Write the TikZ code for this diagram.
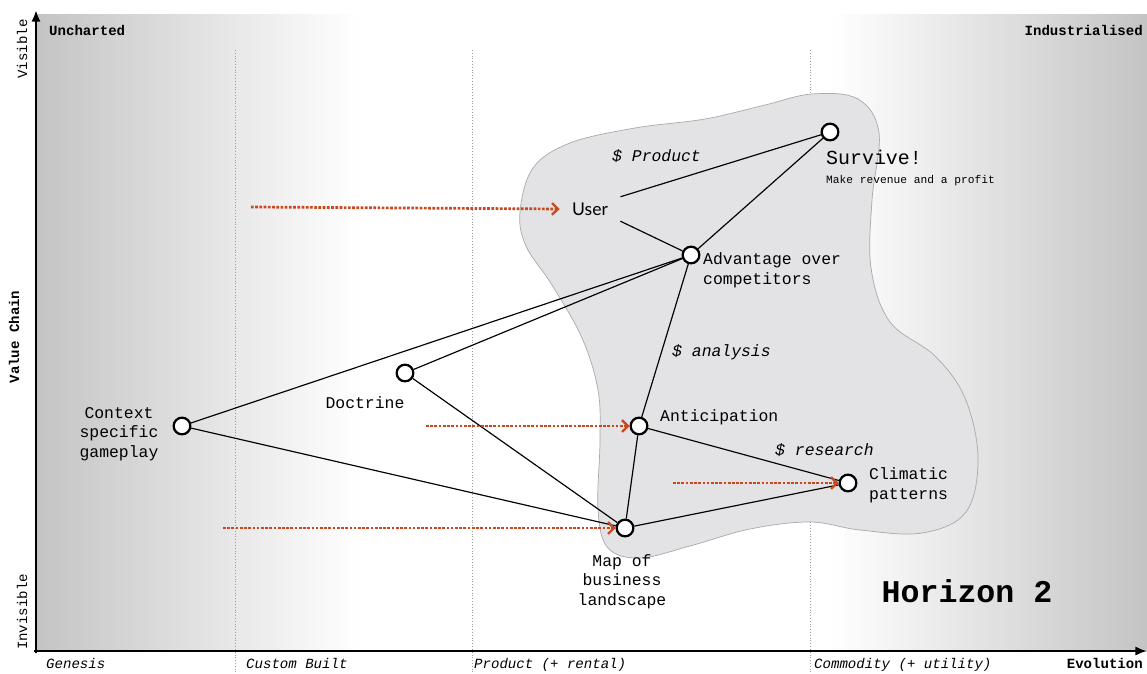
\documentclass[tikz,border=0pt]{standalone}
\usepackage{fontspec}
\setmainfont{Liberation Mono}
\newfontfamily\userfont{Lato}
\usetikzlibrary{arrows.meta}
\definecolor{bgdark}{HTML}{C4C4C4}
\definecolor{blobfill}{HTML}{E3E3E5}
\definecolor{blobedge}{HTML}{A9A9A9}
\definecolor{gridgray}{HTML}{9C9C9C}
\definecolor{moveorange}{HTML}{C9481F}

\begin{document}
\begin{tikzpicture}[x=0.03cm, y=-0.03cm,
  comp/.style={circle, draw=black, line width=1.9pt, fill=white,
               minimum size=0.5cm, inner sep=0pt},
  lbl/.style={font=\fontsize{14}{16.5}\selectfont, align=left, inner sep=0pt},
  clbl/.style={font=\fontsize{14}{16.5}\selectfont, align=center, inner sep=0pt},
  cost/.style={font=\itshape\fontsize{14}{16.5}\selectfont, inner sep=0pt, anchor=base west},
  stage/.style={font=\itshape\fontsize{12}{14}\selectfont, inner sep=0pt, anchor=base west},
  corner/.style={font=\bfseries\fontsize{12}{14}\selectfont, inner sep=0pt},
  side/.style={font=\fontsize{12}{14}\selectfont, inner sep=0pt, rotate=90},
  link/.style={draw=black, line width=1pt},
  move/.style={draw=moveorange, line width=2.3pt, dash pattern=on 2.3pt off 1.3pt,
               -{Straight Barb[length=5pt, width=10pt, line width=2pt]}},
  gridln/.style={draw=gridgray, line width=0.6pt, dash pattern=on 0.8pt off 1.6pt},
  axis/.style={line width=2.4pt, -{Latex[length=10pt, width=8pt]}},
]
\useasboundingbox (0,0) rectangle (1147,674);
% ================= background: evolution shading ===========================
\shade[left color=bgdark, right color=white] (36,15) rectangle (360,651);
\shade[left color=white, right color=bgdark] (830,15) rectangle (1147,651);
\foreach \gx in {235, 472, 810}
  \draw[gridln] (\gx,50) -- (\gx,674);
% ================= horizon 2 blob ==========================================
\draw[blobedge, fill=blobfill, line width=0.6pt] plot[smooth cycle, tension=0.6] coordinates {
  (520,212) (533,168) (570,143) (635,128) (705,119) (765,105) (812,94) (858,99)
  (879,133) (872,200) (871,268) (890,322) (935,356) (965,398) (978,458) (966,512)
  (922,533) (860,530) (810,522) (750,529) (690,546) (640,558) (608,548) (598,510)
  (600,440) (598,390) (582,338) (552,285) (526,246)};
% ================= axes ====================================================
\coordinate (origin) at (36,651);
\coordinate (vtop) at (36,10);
\coordinate (hend) at (1147,651);
\draw[axis] (36,653) -- (vtop);
\draw[axis] (34,651) -- (hend);
\node[side] (visible) at (22,49) {Visible};
\node[side] (invisible) at (22,612) {Invisible};
\node[side, font=\bfseries\fontsize{12}{14}\selectfont] (valuechain) at (14,337) {Value Chain};
\node[corner, anchor=base west] (uncharted) at (49,36) {Uncharted};
\node[corner, anchor=base east] (industrial) at (1143,36) {Industrialised};
\node[stage] (genesis) at (46,668) {Genesis};
\node[stage] (custom) at (246,668) {Custom Built};
\node[stage] (product) at (474,668) {Product (+ rental)};
\node[stage] (commodity) at (814,668) {Commodity (+ utility)};
\node[corner, anchor=base east] (evolution) at (1143,668) {Evolution};
% ================= components ==============================================
\node[comp] (survive) at (830,132) {};
\node[comp] (adv) at (691,255) {};
\node[comp] (doctrine) at (405,373) {};
\node[comp] (context) at (182,426) {};
\node[comp] (antic) at (639,426) {};
\node[comp] (climatic) at (848,483) {};
\node[comp] (map) at (625,528) {};
\node[font=\userfont\fontsize{15}{17}\selectfont, inner xsep=0.37cm, inner ysep=0pt,
      minimum height=0.72cm] (user) at (590,209) {User};
% labels (multi-line: base = last line)
\node[inner sep=0pt, anchor=base west, font=\fontsize{17}{19}\selectfont] (survivelab) at (826,164) {Survive!};
\node[inner sep=0pt, anchor=base west, font=\fontsize{9.6}{11}\selectfont] (profitlab) at (826,183) {Make revenue and a profit};
\node[lbl, anchor=base west] (advlab) at (703,284) {Advantage over\\competitors};
\node[clbl, anchor=base] (doctrinelab) at (365,408) {Doctrine};
\node[clbl, anchor=base] (contextlab) at (119,457) {Context\\specific\\gameplay};
\node[lbl, anchor=base west] (anticlab) at (660,421) {Anticipation};
\node[lbl, anchor=base west] (climaticlab) at (869,499) {Climatic\\patterns};
\node[clbl, anchor=base] (maplab) at (622,605) {Map of\\business\\landscape};
\node[cost] (productcost) at (612,161) {\$ Product};
\node[cost] (analysiscost) at (672,356) {\$ analysis};
\node[cost] (researchcost) at (775,455) {\$ research};
\node[inner sep=0pt, anchor=base, font=\bfseries\fontsize{27}{30}\selectfont] (horizon) at (967,602) {Horizon 2};
% ================= links ===================================================
\draw[link] (user.north east) -- (survive);
\draw[link] (user.south east) -- (adv);
\draw[link] (survive) -- (adv);
\draw[link] (adv) -- (context);
\draw[link] (adv) -- (doctrine);
\draw[link] (adv) -- (antic);
\draw[link] (doctrine) -- (map);
\draw[link] (context) -- (map);
\draw[link] (antic) -- (map);
\draw[link] (antic) -- (climatic);
\draw[link] (map) -- (climatic);
% ================= movement (red dotted) ===================================
\coordinate (usermv) at (251,207);
\coordinate (anticmv) at (426,426);
\coordinate (mapmv) at (223,528);
\coordinate (climaticmv) at (673,483);
\draw[move] (usermv) -- (user.west);
\draw[move] (anticmv) -- (antic);
\draw[move] (mapmv) -- (map);
\draw[move] (climaticmv) -- (climatic);
\end{tikzpicture}
\end{document}
